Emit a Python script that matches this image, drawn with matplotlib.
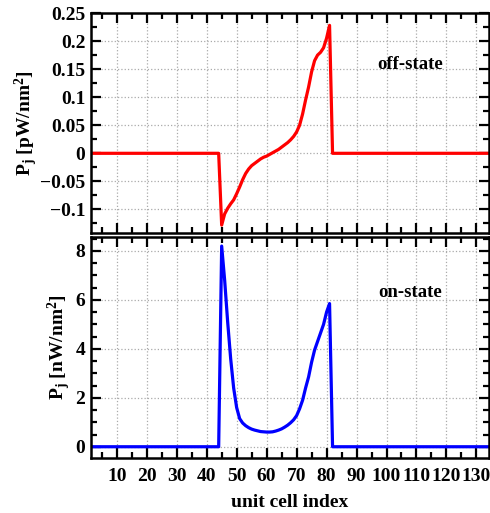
import numpy as np
import matplotlib
matplotlib.use("Agg")
import matplotlib.pyplot as plt
from matplotlib.ticker import MultipleLocator

plt.rcParams['font.family'] = ['Liberation Serif', 'DejaVu Serif']
plt.rcParams['font.weight'] = 'bold'
plt.rcParams['axes.labelweight'] = 'bold'
plt.rcParams['mathtext.fontset'] = 'custom'
plt.rcParams['mathtext.rm'] = 'Liberation Serif:bold'
plt.rcParams['mathtext.it'] = 'Liberation Serif:bold'
plt.rcParams['mathtext.bf'] = 'Liberation Serif:bold'

# unit cell index
cells = list(range(1, 135))

# off-state values (pW/nm^2) for cells 45..81, zero elsewhere
off_active_start = 45
off_active = [-0.128, -0.108, -0.098, -0.090, -0.083, -0.072, -0.060, -0.047,
              -0.036, -0.028, -0.022, -0.018, -0.014, -0.010, -0.007, -0.005,
              -0.002, 0.001, 0.004, 0.007, 0.011, 0.015, 0.019, 0.024, 0.030,
              0.038, 0.050, 0.070, 0.095, 0.118, 0.145, 0.165, 0.175, 0.180,
              0.188, 0.205, 0.228]

# on-state values (nW/nm^2) for cells 45..81, zero elsewhere
on_active_start = 45
on_active = [8.2, 6.8, 5.1, 3.6, 2.4, 1.6, 1.15, 0.97, 0.86, 0.78, 0.72, 0.68,
             0.65, 0.62, 0.61, 0.60, 0.60, 0.61, 0.64, 0.68, 0.73, 0.80, 0.88,
             0.98, 1.10, 1.27, 1.55, 1.90, 2.40, 2.85, 3.45, 3.95, 4.30, 4.65,
             5.00, 5.50, 5.85]

def full_series(start, active):
    vals = []
    for c in cells:
        i = c - start
        vals.append(active[i] if 0 <= i < len(active) else 0.0)
    return vals

off_vals = full_series(off_active_start, off_active)
on_vals = full_series(on_active_start, on_active)

FS = 14
W, H = 490, 513
fig = plt.figure(figsize=(W / 100, H / 100), dpi=100)
left, right = 91 / W, 489 / W
ax1 = fig.add_axes([left, 1 - 233 / H, right - left, (233 - 13) / H])
ax2 = fig.add_axes([left, 1 - 458 / H, right - left, (458 - 237) / H])

for ax in (ax1, ax2):
    ax.set_xlim(1.4, 134.2)
    ax.xaxis.set_major_locator(MultipleLocator(10))
    ax.xaxis.set_minor_locator(MultipleLocator(5))
    ax.tick_params(which='both', direction='in', top=True, right=True,
                   labelsize=FS, width=1.6, pad=4)
    ax.tick_params(which='major', length=7)
    ax.tick_params(which='minor', length=4)
    for s in ax.spines.values():
        s.set_linewidth(1.8)
    ax.grid(True, which='major', linestyle=':', color='#aaaaaa', linewidth=0.9)
    ax.set_axisbelow(True)

ax2.tick_params(axis='x', which='both', pad=7)

ax1.plot(cells, off_vals, color='#ff0000', linewidth=2.3)
ax1.set_ylim(-0.142, 0.25)
ax1.set_yticks([-0.1, -0.05, 0, 0.05, 0.1, 0.15, 0.2, 0.25])
ax1.set_yticklabels(['\u22120.1', '\u22120.05', '0', '0.05', '0.1', '0.15', '0.2', '0.25'])
ax1.yaxis.set_minor_locator(MultipleLocator(0.025))
ax1.tick_params(axis='x', labelbottom=False)
ax1.set_ylabel(r'P$_\mathrm{j}$ [pW/nm$^\mathrm{2}$]', fontsize=FS, labelpad=0)
ax1.text(108, 0.158, 'off-state', fontsize=13.5, ha='center', va='center')

ax2.plot(cells, on_vals, color='#0000ff', linewidth=2.3)
ax2.set_ylim(-0.46, 8.57)
ax2.yaxis.set_major_locator(MultipleLocator(2))
ax2.yaxis.set_minor_locator(MultipleLocator(0.5))
ax2.set_ylabel(r'P$_\mathrm{j}$ [nW/nm$^\mathrm{2}$]', fontsize=FS, labelpad=1.5)
ax2.set_xlabel('unit cell index', fontsize=FS, labelpad=7)
ax2.text(108, 6.3, 'on-state', fontsize=13.5, ha='center', va='center')

fig.savefig('out.png', dpi=100)
